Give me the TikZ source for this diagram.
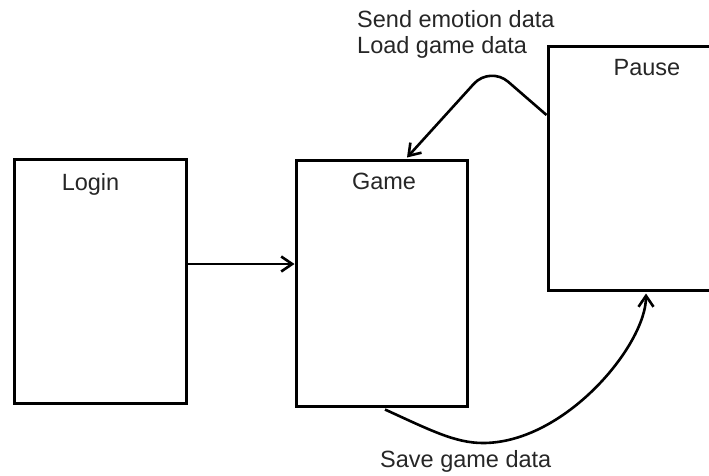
\documentclass[tikz,border=0pt]{standalone}
\usepackage{fontspec}
\setmainfont{Liberation Sans}
\usetikzlibrary{arrows.meta}

\begin{document}
\begin{tikzpicture}[x=1pt, y=-1pt,
  screen/.style={draw=black, line width=3pt, inner sep=0pt, minimum width=#1},
  screen/.default=172pt,
  txt/.style={inner sep=0pt, text=black!85, font=\fontsize{23.5}{26}\selectfont},
  conn/.style={draw=black, line width=2.6pt,
    -{Straight Barb[length=11pt, width=15pt, line width=2.6pt]}}]

  \useasboundingbox (0,0) rectangle (709,475);
  \clip (0,0) rectangle (709,475);

  % screens
  \node[screen, minimum height=244pt] (login) at (100,281) {};
  \node[screen=171pt, minimum height=246pt] (game) at (381.5,283) {};
  \node[screen, minimum height=244pt] (pause) at (634,168) {};

  % screen titles
  \node[txt, anchor=base] (loginT) at (90.5,190) {Login};
  \node[txt, anchor=base] (gameT) at (384,189) {Game};
  \node[txt, anchor=base] (pauseT) at (647,75) {Pause};

  % transition labels (base of a multi-line node is its last line)
  \node[txt, anchor=base west, align=left] (loadT) at (357,53)
    {Send emotion data\\Load game data};
  \node[txt, anchor=base west] (saveT) at (380,467) {Save game data};

  % login -> game
  \draw[conn] ([yshift=17pt]login.east) -- ([yshift=17pt]login.east -| game.west);

  % pause -> game
  \coordinate (peak) at (490,66);
  \draw[conn, rounded corners=24pt]
    ([yshift=53pt]pause.west) -- (peak) -- ([xshift=25.5pt,yshift=1pt]game.north);

  % game -> pause
  \coordinate (dip) at (483,443);
  \draw[conn]
    ([xshift=3.5pt,yshift=-2pt]game.south)
      .. controls (430,430) and (455,443) .. (dip)
      .. controls (565,443) and (646,345) .. ([xshift=12pt,yshift=-2pt]pause.south);
\end{tikzpicture}
\end{document}
